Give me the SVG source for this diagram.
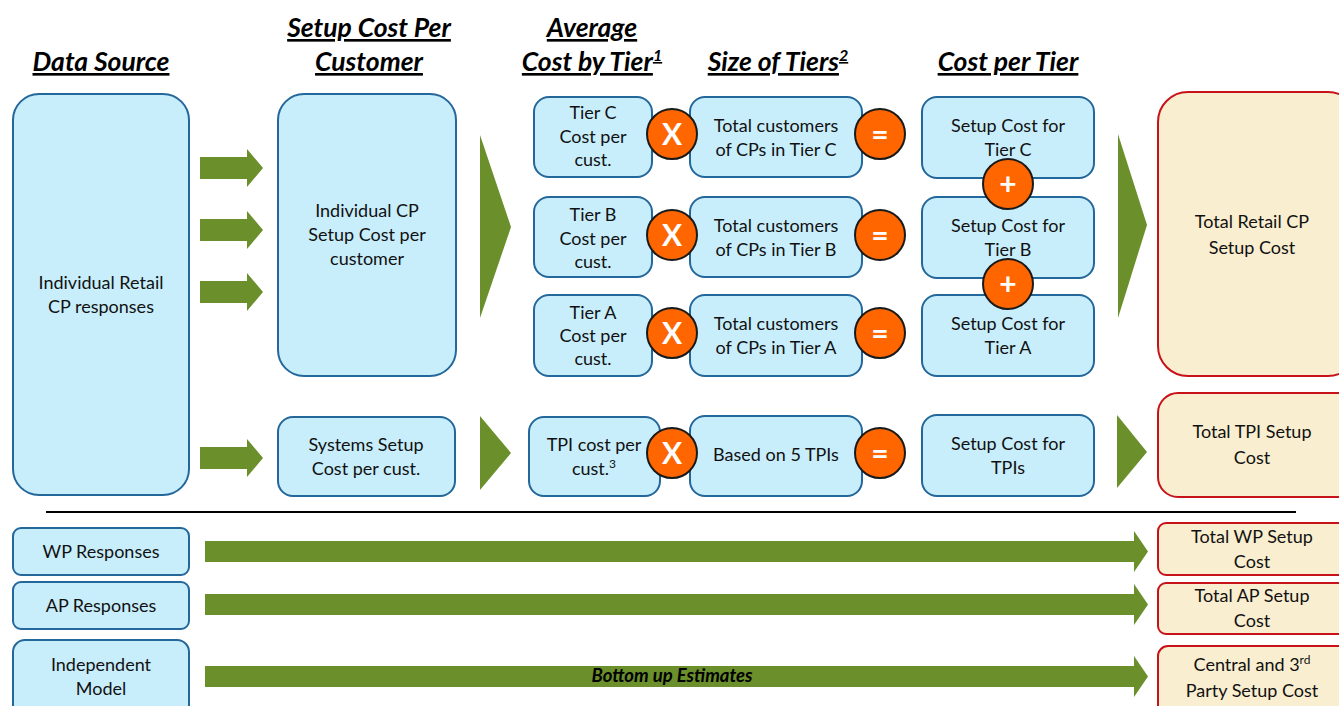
<svg xmlns="http://www.w3.org/2000/svg" width="1339" height="706" viewBox="0 0 1339 706">
  <style>
    .hdr { font-family: Lato, "Liberation Sans", sans-serif; font-size: 26.5px; font-weight: bold; font-style: italic; text-decoration: underline; fill: #000; text-anchor: middle; }
    .box { fill: #c8eefc; stroke: #24679a; stroke-width: 2; }
    .tot { fill: #f9eed0; stroke: #c8121a; stroke-width: 2; }
    .t { font-family: Lato, "Liberation Sans", sans-serif; font-size: 18px; fill: #111; text-anchor: middle; }
    .op { fill: #ff6600; stroke: #1a1a1a; stroke-width: 2; }
    .opt { font-family: Lato, "Liberation Sans", sans-serif; font-size: 30px; font-weight: bold; fill: #fff; text-anchor: middle; }
    .arr { fill: #6a8f2b; }
    .sup { font-size: 12px; }
    .hsup { font-size: 16px; }
  </style>

  <!-- column headings -->
  <g id="headings">
    <text class="hdr" x="101" y="71">Data Source</text>
    <text class="hdr" x="369" y="37">Setup Cost Per</text>
    <text class="hdr" x="369" y="71">Customer</text>
    <text class="hdr" x="592" y="37">Average</text>
    <text class="hdr" x="592" y="71">Cost by Tier<tspan class="hsup" dy="-10">1</tspan></text>
    <text class="hdr" x="778" y="71">Size of Tiers<tspan class="hsup" dy="-10">2</tspan></text>
    <text class="hdr" x="1008" y="71">Cost per Tier</text>
  </g>

  <!-- arrows -->
  <g id="connectors">
    <polygon class="arr" points="200,157 247,157 247,149 263,168 247,187 247,179 200,179"/>
    <polygon class="arr" points="200,219 247,219 247,211 263,230 247,249 247,241 200,241"/>
    <polygon class="arr" points="200,281 247,281 247,273 263,292 247,311 247,303 200,303"/>
    <polygon class="arr" points="200,447 247,447 247,439 263,458 247,477 247,469 200,469"/>
    <polygon class="arr" points="480,135 511,227 480,318"/>
    <polygon class="arr" points="480,416 511,453 480,490"/>
    <polygon class="arr" points="1118,134 1147,225 1118,318"/>
    <polygon class="arr" points="1117,415 1147,452 1117,488"/>
    <polygon class="arr" points="205,541 1134,541 1134,531 1148,551.5 1134,572 1134,562 205,562"/>
    <polygon class="arr" points="205,594 1134,594 1134,584 1148,604.5 1134,625 1134,615 205,615"/>
    <polygon class="arr" points="205,666 1134,666 1134,656 1148,676.5 1134,697 1134,687 205,687"/>
  </g>

  <!-- divider between the retail section and the other parties -->
  <line x1="46" y1="512" x2="1296" y2="512" stroke="#000" stroke-width="2"/>

  <g id="data-source">
    <rect class="box" x="13" y="94" width="176" height="401" rx="26"/>
    <text class="t" x="101" y="289">Individual Retail</text>
    <text class="t" x="101" y="313">CP responses</text>
  </g>

  <g id="cp-setup">
    <rect class="box" x="278" y="94" width="178" height="282" rx="26"/>
    <text class="t" x="367" y="217">Individual CP</text>
    <text class="t" x="367" y="241">Setup Cost per</text>
    <text class="t" x="367" y="265">customer</text>
  </g>

  <g id="systems-setup">
    <rect class="box" x="278" y="417" width="177" height="79" rx="15"/>
    <text class="t" x="366" y="451">Systems Setup</text>
    <text class="t" x="366" y="475">Cost per cust.</text>
  </g>

  <g id="tier-c-cost">
    <rect class="box" x="534" y="97" width="118" height="80" rx="15"/>
    <text class="t" x="593" y="119">Tier C</text>
    <text class="t" x="593" y="143">Cost per</text>
    <text class="t" x="593" y="166">cust.</text>
  </g>
  <g id="tier-b-cost">
    <rect class="box" x="534" y="197" width="118" height="80" rx="15"/>
    <text class="t" x="593" y="221">Tier B</text>
    <text class="t" x="593" y="245">Cost per</text>
    <text class="t" x="593" y="268">cust.</text>
  </g>
  <g id="tier-a-cost">
    <rect class="box" x="534" y="295" width="118" height="81" rx="15"/>
    <text class="t" x="593" y="319">Tier A</text>
    <text class="t" x="593" y="342">Cost per</text>
    <text class="t" x="593" y="365">cust.</text>
  </g>
  <g id="tpi-cost">
    <rect class="box" x="529" y="417" width="131" height="79" rx="15"/>
    <text class="t" x="594" y="451">TPI cost per</text>
    <text class="t" x="594" y="475">cust.<tspan class="sup" dy="-7">3</tspan></text>
  </g>

  <g id="tier-c-size">
    <rect class="box" x="690" y="97" width="172" height="80" rx="15"/>
    <text class="t" x="776" y="132">Total customers</text>
    <text class="t" x="776" y="156">of CPs in Tier C</text>
  </g>
  <g id="tier-b-size">
    <rect class="box" x="690" y="197" width="172" height="80" rx="15"/>
    <text class="t" x="776" y="232">Total customers</text>
    <text class="t" x="776" y="256">of CPs in Tier B</text>
  </g>
  <g id="tier-a-size">
    <rect class="box" x="690" y="295" width="172" height="81" rx="15"/>
    <text class="t" x="776" y="330">Total customers</text>
    <text class="t" x="776" y="354">of CPs in Tier A</text>
  </g>
  <g id="tpi-size">
    <rect class="box" x="690" y="416" width="172" height="80" rx="15"/>
    <text class="t" x="776" y="461">Based on 5 TPIs</text>
  </g>

  <g id="tier-c-total">
    <rect class="box" x="922" y="97" width="172" height="81" rx="15"/>
    <text class="t" x="1008" y="132">Setup Cost for</text>
    <text class="t" x="1008" y="156">Tier C</text>
  </g>
  <g id="tier-b-total">
    <rect class="box" x="922" y="197" width="172" height="81" rx="15"/>
    <text class="t" x="1008" y="232">Setup Cost for</text>
    <text class="t" x="1008" y="256">Tier B</text>
  </g>
  <g id="tier-a-total">
    <rect class="box" x="922" y="295" width="172" height="81" rx="15"/>
    <text class="t" x="1008" y="330">Setup Cost for</text>
    <text class="t" x="1008" y="354">Tier A</text>
  </g>
  <g id="tpi-total">
    <rect class="box" x="922" y="415" width="172" height="81" rx="15"/>
    <text class="t" x="1008" y="450">Setup Cost for</text>
    <text class="t" x="1008" y="474">TPIs</text>
  </g>

  <!-- operators -->
  <g id="op-times-c"><circle class="op" cx="672" cy="134" r="25"/><text class="opt" x="672" y="145">X</text></g>
  <g id="op-times-b"><circle class="op" cx="672" cy="235" r="25"/><text class="opt" x="672" y="246">X</text></g>
  <g id="op-times-a"><circle class="op" cx="672" cy="333" r="25"/><text class="opt" x="672" y="344">X</text></g>
  <g id="op-times-tpi"><circle class="op" cx="672" cy="453" r="25"/><text class="opt" x="672" y="464">X</text></g>
  <g id="op-eq-c"><circle class="op" cx="880" cy="134" r="25"/><text class="opt" x="880" y="145">=</text></g>
  <g id="op-eq-b"><circle class="op" cx="880" cy="235" r="25"/><text class="opt" x="880" y="246">=</text></g>
  <g id="op-eq-a"><circle class="op" cx="880" cy="333" r="25"/><text class="opt" x="880" y="344">=</text></g>
  <g id="op-eq-tpi"><circle class="op" cx="880" cy="453" r="25"/><text class="opt" x="880" y="464">=</text></g>
  <g id="op-plus-1"><circle class="op" cx="1008" cy="184" r="25"/><text class="opt" x="1008" y="195">+</text></g>
  <g id="op-plus-2"><circle class="op" cx="1008" cy="284" r="25"/><text class="opt" x="1008" y="295">+</text></g>

  <g id="total-retail">
    <rect class="tot" x="1158" y="92" width="200" height="284" rx="30"/>
    <text class="t" x="1252" y="228">Total Retail CP</text>
    <text class="t" x="1252" y="254">Setup Cost</text>
  </g>
  <g id="total-tpi">
    <rect class="tot" x="1158" y="393" width="200" height="104" rx="20"/>
    <text class="t" x="1252" y="438">Total TPI Setup</text>
    <text class="t" x="1252" y="464">Cost</text>
  </g>

  <!-- other parties -->
  <g id="wp-responses">
    <rect class="box" x="13" y="528" width="176" height="47" rx="8"/>
    <text class="t" x="101" y="558">WP Responses</text>
  </g>
  <g id="ap-responses">
    <rect class="box" x="13" y="582" width="176" height="47" rx="8"/>
    <text class="t" x="101" y="612">AP Responses</text>
  </g>
  <g id="independent-model">
    <rect class="box" x="13" y="640" width="176" height="80" rx="12"/>
    <text class="t" x="101" y="671">Independent</text>
    <text class="t" x="101" y="695">Model</text>
  </g>
  <text x="672" y="682" font-family="Lato, 'Liberation Sans', sans-serif" font-size="18.5px" font-weight="bold" font-style="italic" text-anchor="middle" fill="#000">Bottom up Estimates</text>

  <g id="total-wp">
    <rect class="tot" x="1158" y="523" width="200" height="52" rx="8"/>
    <text class="t" x="1252" y="543">Total WP Setup</text>
    <text class="t" x="1252" y="568">Cost</text>
  </g>
  <g id="total-ap">
    <rect class="tot" x="1158" y="583" width="200" height="51" rx="8"/>
    <text class="t" x="1252" y="602">Total AP Setup</text>
    <text class="t" x="1252" y="627">Cost</text>
  </g>
  <g id="total-central">
    <rect class="tot" x="1158" y="646" width="200" height="80" rx="10"/>
    <text class="t" x="1252" y="671">Central and 3<tspan class="sup" dy="-7">rd</tspan></text>
    <text class="t" x="1252" y="697">Party Setup Cost</text>
  </g>
</svg>
